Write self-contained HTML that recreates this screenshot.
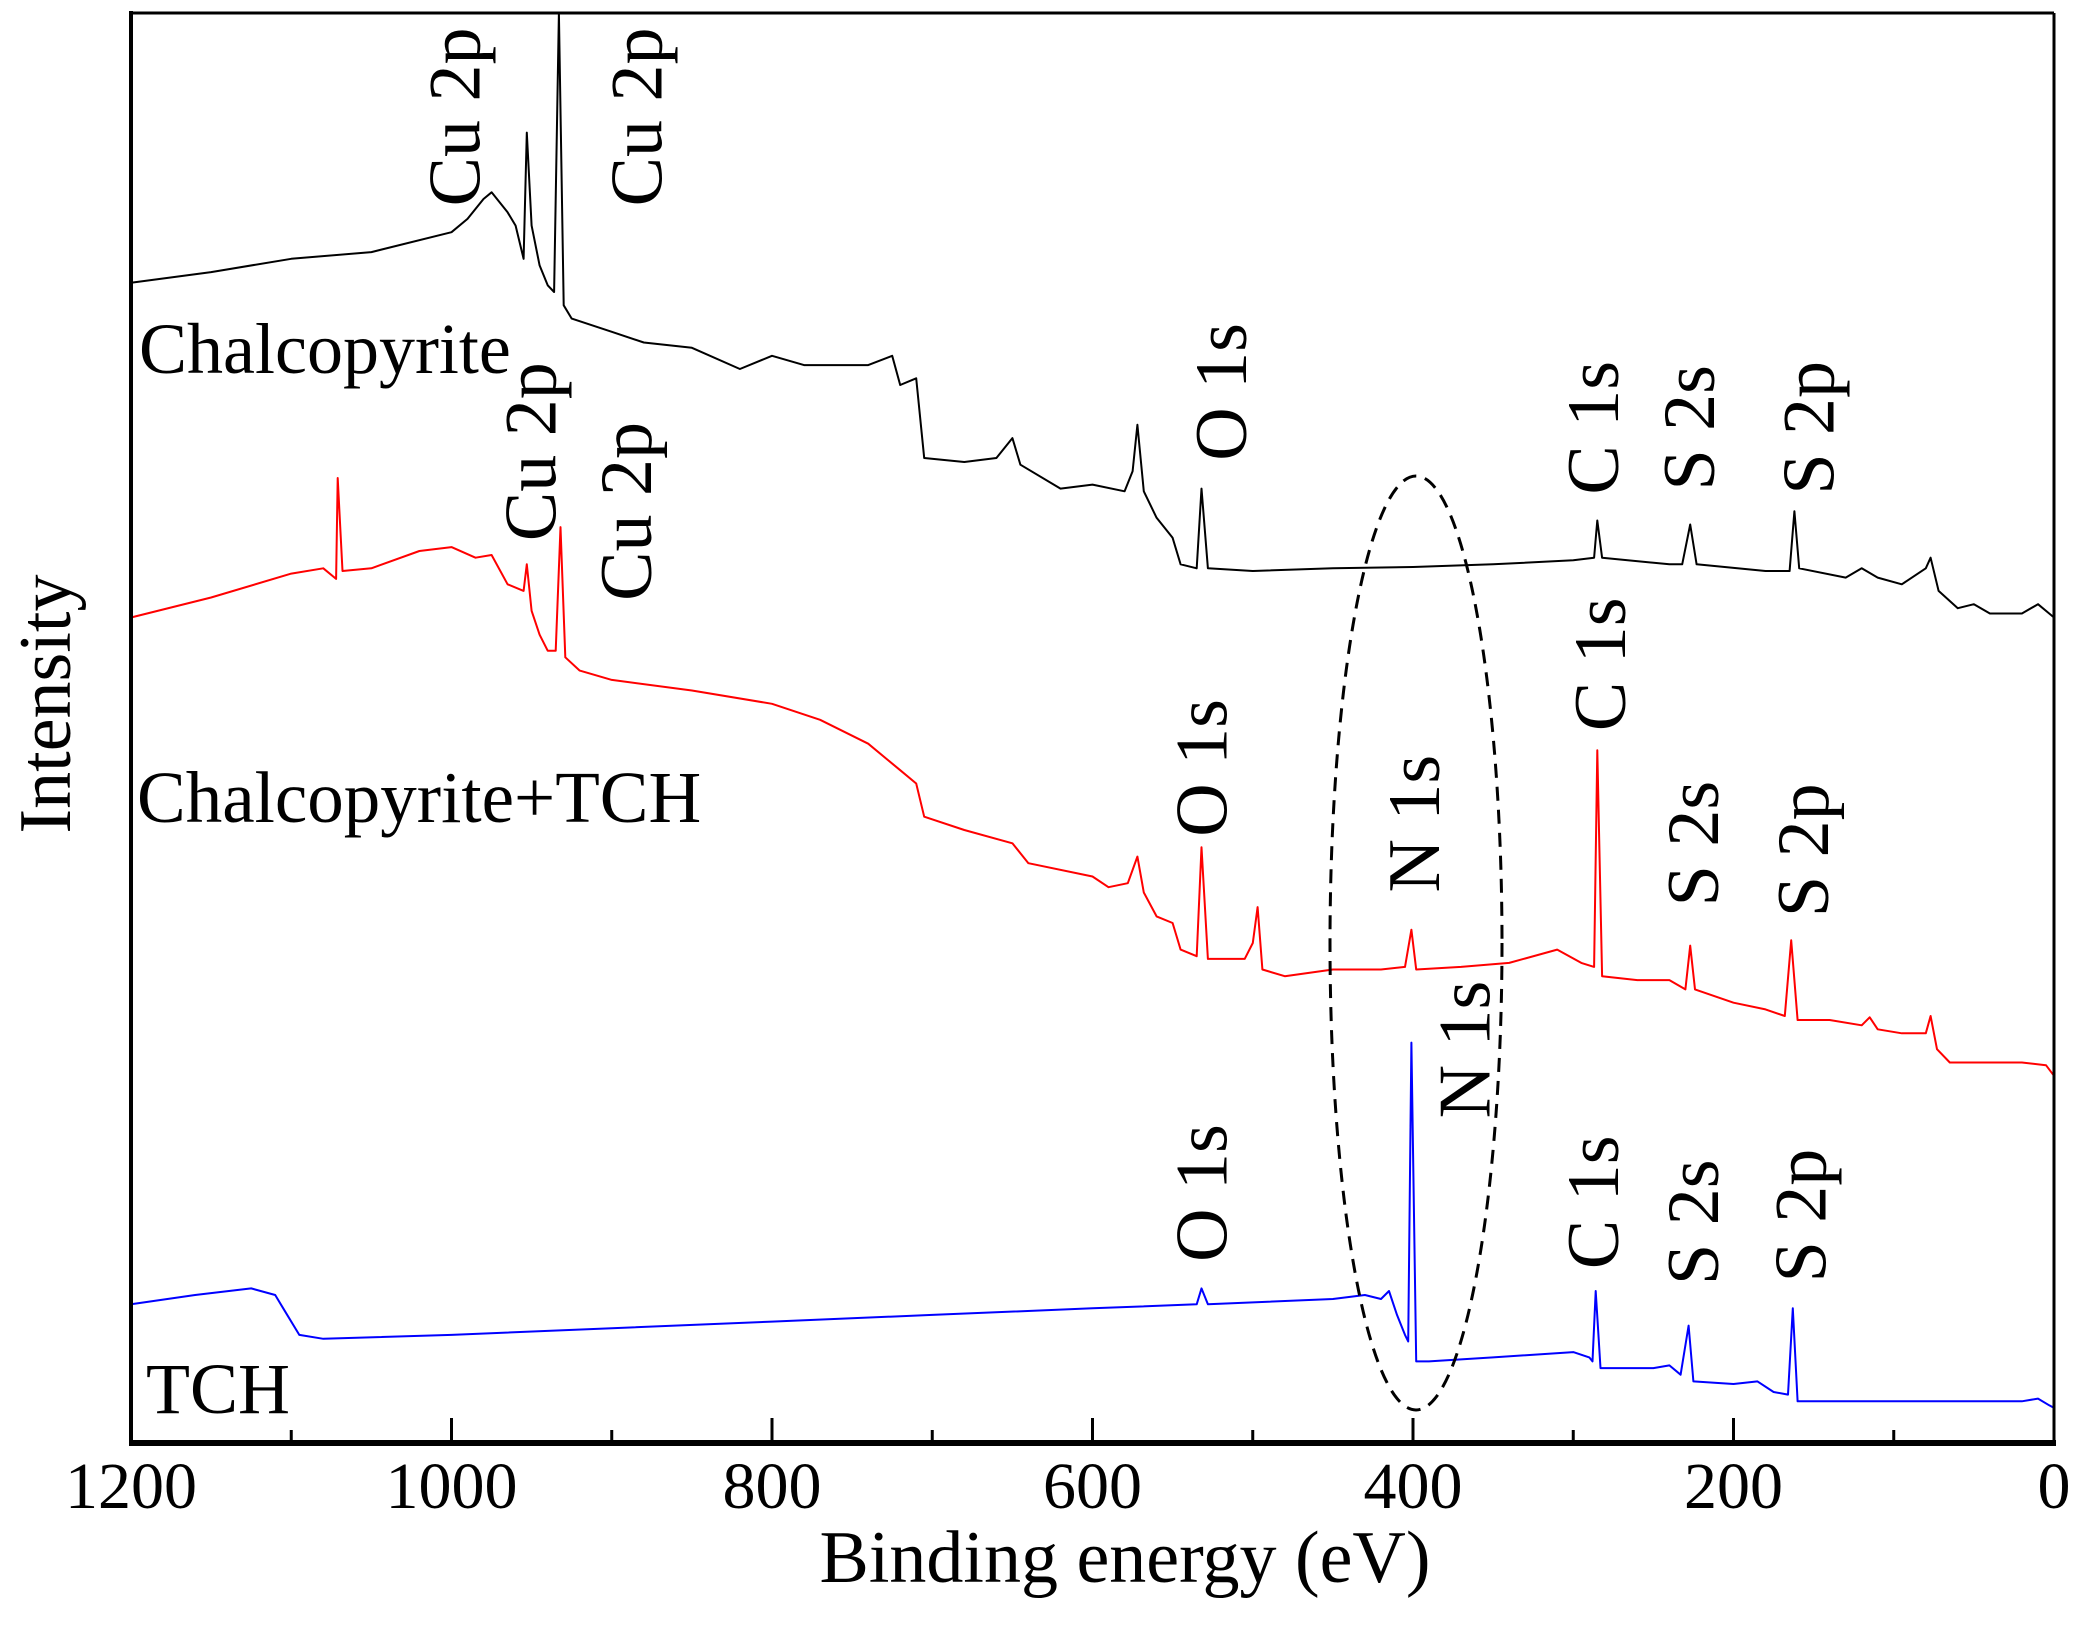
<!DOCTYPE html>
<html><head><meta charset="utf-8"><style>
html,body{margin:0;padding:0;background:#fff;}
svg{display:block;font-family:"Liberation Serif",serif;}
</style></head><body>
<svg id="chart" width="2083" height="1645" viewBox="0 0 2083 1645" xmlns="http://www.w3.org/2000/svg">
<g id="plot"></g>
</svg>
<script>
const xTicks=[1200,1000,800,600,400,200,0];
const xMinor=[1100,900,700,500,300,100];
const blackBE=[1200,1150,1100,1050,1000,990,980,975,965,960,955,953,950,945,940,936,933,930,925,900,880,850,820,800,780,740,725,720,710,705,680,660,650,645,620,600,580,575,572,568,560,550,545,535,532,528,500,450,400,350,300,287,285,282,240,232,227,223,180,165,162,159,130,120,110,95,80,77,72,60,50,40,20,10,3,0];
const blackI=[213,205,195,190,175,165,150,145,160,170,195,100,170,200,215,220,10,230,240,250,258,262,278,268,275,275,268,290,285,345,348,345,330,350,368,365,370,355,320,370,390,405,425,428,368,428,430,428,427,425,422,420,392,420,425,425,395,425,430,430,385,428,435,428,435,440,428,420,445,458,455,462,462,455,462,465];
const redBE=[1200,1150,1100,1080,1072,1071,1068,1050,1020,1000,985,975,965,955,953,950,945,940,935,932,929,920,900,850,800,770,740,720,710,705,680,650,640,600,590,578,572,568,560,550,545,535,532,528,505,500,497,494,480,450,420,405,401,398,370,340,310,295,287,285,282,260,240,230,227,224,200,180,168,164,160,140,120,115,110,95,80,77,73,65,40,20,5,0];
const redI=[465,450,432,428,436,360,430,428,415,412,420,418,440,445,425,460,478,490,490,397,495,505,512,520,530,542,560,580,590,615,625,635,650,660,668,665,645,672,690,695,715,720,638,722,722,710,683,730,735,730,730,728,700,730,728,725,715,725,728,565,735,738,738,745,712,745,755,760,765,708,768,768,772,766,775,778,778,765,790,800,800,800,802,810];
const blueBE=[1200,1160,1125,1110,1105,1095,1080,1000,900,800,700,600,535,532,528,450,430,420,415,410,405,403,401,398,390,350,300,290,288,286,283,250,240,233,228,225,200,185,175,166,163,160,100,50,20,10,3,0];
const blueI=[982,975,970,975,985,1005,1008,1005,1000,995,990,985,982,970,982,978,975,978,972,990,1005,1010,785,1025,1025,1022,1018,1022,1025,972,1030,1030,1028,1035,998,1040,1042,1040,1048,1050,985,1055,1055,1055,1055,1053,1058,1060];

const L=131,R=2054,T=13,B=1443,S=1.3285;
const xs=be=>L+(1200-be)/1200*(R-L);
const ys=v=>T+(v-10)*S;
const NS="http://www.w3.org/2000/svg";
const svg=document.getElementById('chart');
function mk(tag,attrs,parent){const e=document.createElementNS(NS,tag);for(const k in attrs)e.setAttribute(k,attrs[k]);(parent||svg).appendChild(e);return e;}

function series(be,I,color,name){
  const d=be.map((b,i)=>(i?'L':'M')+xs(b).toFixed(1)+' '+ys(I[i]).toFixed(1)).join(' ');
  const p=mk('path',{d:d,fill:'none',stroke:color,'stroke-width':2,'stroke-linejoin':'round'});
  
  
}
series(blackBE,blackI,'#000','chalcopyrite-line');
series(redBE,redI,'#f00','chalcopyrite-tch-line');
series(blueBE,blueI,'#00f','tch-line');

const el=mk('ellipse',{cx:1416,cy:943,rx:86,ry:467,fill:'none',stroke:'#000','stroke-width':3,'stroke-dasharray':'14 9'});



mk('line',{x1:L,y1:T,x2:R,y2:T,stroke:'#000','stroke-width':3});
mk('line',{x1:R,y1:T,x2:R,y2:B,stroke:'#000','stroke-width':3});
mk('line',{x1:L,y1:T-2,x2:L,y2:B+3,stroke:'#000','stroke-width':4});
const xa=mk('line',{x1:L-2,y1:B,x2:R+2,y2:B,stroke:'#000','stroke-width':6});


xTicks.forEach(t=>{
  mk('line',{x1:xs(t),y1:B,x2:xs(t),y2:B-25,stroke:'#000','stroke-width':3});
  const tx=mk('text',{x:xs(t),y:1508,'font-size':66,'text-anchor':'middle'});
  tx.textContent=t;
  
  
});
xMinor.forEach(t=>mk('line',{x1:xs(t),y1:B,x2:xs(t),y2:B-13,stroke:'#000','stroke-width':3}));

function txt(s,x,y,size,rot,name,anchor){
  const a={x:x,y:y,'font-size':size,'text-anchor':anchor||'middle'};
  if(rot){a['dominant-baseline']='central';a.transform='rotate(-90 '+x+' '+y+')';}
  const t=mk('text',a);t.textContent=s;
  
  
}
txt('Binding energy (eV)',1125,1582,74,false,'x-axis-title');
txt('Intensity',46,704,74,true,'y-axis-title');
txt('Chalcopyrite',139,373,72,false,'label-chalcopyrite','start');
txt('Chalcopyrite+TCH',137,822,73,false,'label-chalcopyrite-tch','start');
txt('TCH',146,1413,72,false,'label-tch','start');
const peaks=[
 ['Cu 2p',343,88],['Cu 2p',480,88],['O 1s',920,295],['C 1s',1200,322],['S 2s',1272,322],['S 2p',1362,322],
 ['Cu 2p',400,340],['Cu 2p',472,385],['O 1s',905,578],['N 1s',1065,620],['C 1s',1205,500],['S 2s',1275,635],['S 2p',1358,640],
 ['N 1s',1103,790],['O 1s',905,898],['C 1s',1200,905],['S 2s',1275,920],['S 2p',1356,915]];
peaks.forEach(p=>txt(p[0],p[1]*S,p[2]*S,74,true,'peak-label-'+p[0].replace(' ','').toLowerCase()));
</script>
</body></html>
